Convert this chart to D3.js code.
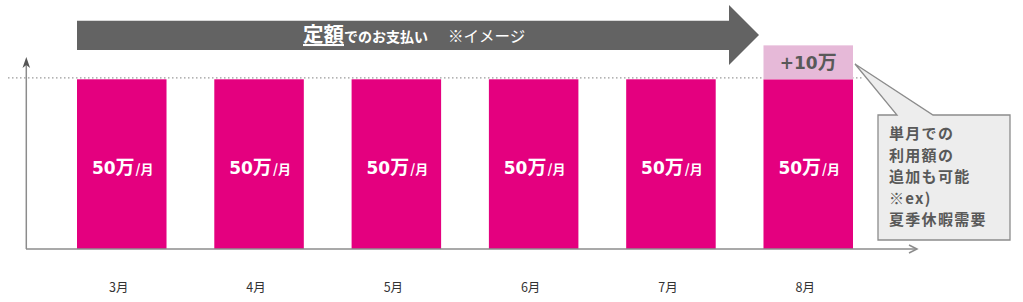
<!DOCTYPE html>
<html><head><meta charset="utf-8">
<script src="https://cdn.jsdelivr.net/npm/d3@7"></script>
<style>
html,body{margin:0;padding:0;background:#fff;}
svg{display:block;font-family:"Noto Sans CJK JP","Noto Sans",sans-serif;}
</style></head>
<body><svg id="c" width="1023" height="302"></svg>
<script>
const months = ["3月","4月","5月","6月","7月","8月"];
const baseValues = [50,50,50,50,50,50];
const extraValues = [0,0,0,0,0,10];
const barLabelNum = "50";
const barLabelKanji = "万";
const barLabelUnit = "/月";
const extraLabelNum = "+10";
const extraLabelKanji = "万";
const bannerTitle = "定額";
const bannerRest = "でのお支払い";
const bannerNote = "※イメージ";
const calloutLines = ["単月での","利用額の","追加も可能","※ex)","夏季休暇需要"];

const svg = d3.select("#c");
const numFont = "'DejaVu Sans','Noto Sans CJK JP',sans-serif";
const x = d3.scaleBand().domain(months).range([77,853]).paddingInner(0.348).paddingOuter(0);
const y = d3.scaleLinear().domain([0,50]).range([249,79.3]);

// dotted reference line at base value
svg.append("line").attr("x1",8).attr("x2",862).attr("y1",y(50)-1.5).attr("y2",y(50)-1.5)
  .attr("stroke","#9a9a9a").attr("stroke-width",1.2).attr("stroke-dasharray","1.5,2.5");

// bars
svg.selectAll("rect.base").data(months).join("rect").attr("class","base")
  .attr("x",d=>x(d)).attr("width",x.bandwidth())
  .attr("y",(d,i)=>y(baseValues[i])).attr("height",(d,i)=>y(0)-y(baseValues[i]))
  .attr("fill","#E4007F");
svg.selectAll("rect.extra").data(months.filter((d,i)=>extraValues[i]>0)).join("rect").attr("class","extra")
  .attr("x",d=>x(d)).attr("width",x.bandwidth())
  .attr("y",d=>{const i=months.indexOf(d);return y(baseValues[i]+extraValues[i]);})
  .attr("height",d=>{const i=months.indexOf(d);return y(baseValues[i])-y(baseValues[i]+extraValues[i]);})
  .attr("fill","#E6B9D8");
months.forEach((d,i)=>{
  if(extraValues[i]>0){
    const yc=(y(baseValues[i])+y(baseValues[i]+extraValues[i]))/2;
    const t=svg.append("text").attr("x",x(d)+x.bandwidth()/2).attr("y",yc+6.5)
      .attr("text-anchor","middle").attr("font-weight","bold").attr("fill","#595959");
    t.append("tspan").attr("font-family",numFont).attr("font-size",17).text(extraLabelNum);
    t.append("tspan").attr("font-size",19).text(extraLabelKanji);
  }
});

// bar labels
months.forEach((d,i)=>{
  const t = svg.append("text").attr("x",x(d)+x.bandwidth()/2+1).attr("y",173.5)
    .attr("text-anchor","middle").attr("fill","#fff").attr("font-weight","bold");
  t.append("tspan").attr("font-family",numFont).attr("font-size",17).text(barLabelNum);
  t.append("tspan").attr("font-size",19).text(barLabelKanji);
  t.append("tspan").attr("font-size",13).attr("dx",1).text(barLabelUnit);
});

// axes
const axisColor="#8c8c8c";
svg.append("line").attr("x1",26).attr("x2",916).attr("y1",249).attr("y2",249)
  .attr("stroke",axisColor).attr("stroke-width",1.5);
svg.append("path").attr("d","M909,245 L917,249 L909,253").attr("fill","none")
  .attr("stroke",axisColor).attr("stroke-width",1.5);
svg.append("line").attr("x1",26.3).attr("x2",26.3).attr("y1",249).attr("y2",62)
  .attr("stroke",axisColor).attr("stroke-width",1.5);
svg.append("path").attr("d","M26.3,57 L22.5,68 L26.3,65 L30.1,68 Z").attr("fill","#555");

const xa = svg.append("g").attr("transform","translate(-3,283)")
  .call(d3.axisBottom(x).tickSize(0).tickPadding(0));
xa.select(".domain").remove();
xa.selectAll("text").attr("font-size",12.5).attr("fill","#333")
  .attr("font-family","'Noto Sans CJK JP','Noto Sans',sans-serif");

// banner arrow
svg.append("path").attr("d","M77,20.7 L729,20.7 L729,5 L759,35 L729,65 L729,50 L77,50 Z")
  .attr("fill","#636363");
const bt = svg.append("text").attr("x",303).attr("y",42).attr("fill","#fff").attr("font-weight","bold");
bt.append("tspan").attr("font-size",20.5).attr("text-decoration","underline").text(bannerTitle);
bt.append("tspan").attr("font-size",14).text(bannerRest);
svg.append("text").attr("x",448).attr("y",41.5).attr("fill","#fff").attr("font-size",15.5).text(bannerNote);

// callout
svg.append("path")
  .attr("d","M878,115 L897,115 L855,64 L933,115 L1010,115 L1010,240 L878,240 Z")
  .attr("fill","#EDEDED").attr("stroke","#8c8c8c").attr("stroke-width",1.3);
calloutLines.forEach((l,i)=>{
  svg.append("text").attr("x",889).attr("y",139+i*21.6).attr("font-size",15)
    .attr("letter-spacing",1.3)
    .attr("font-weight","bold").attr("fill","#595959").text(l);
});
</script></body></html>
